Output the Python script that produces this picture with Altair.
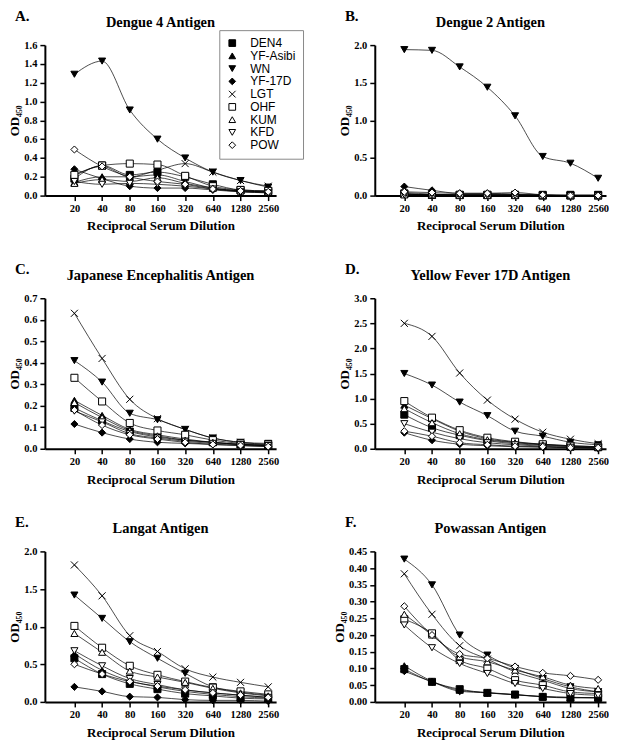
import altair as alt
import pandas as pd

DILUTIONS = [20, 40, 80, 160, 320, 640, 1280, 2560]
SERIES = ["DEN4", "YF-Asibi", "WN", "YF-17D", "LGT", "OHF", "KUM", "KFD", "POW"]

# Panel A: Dengue 4 Antigen
DENGUE4 = {
    "DEN4":     [0.18, 0.32, 0.22, 0.25, 0.20, 0.12, 0.06, 0.05],
    "YF-Asibi": [0.14, 0.20, 0.20, 0.22, 0.15, 0.08, 0.05, 0.04],
    "WN":       [1.29, 1.43, 0.91, 0.60, 0.40, 0.25, 0.16, 0.09],
    "YF-17D":   [0.28, 0.18, 0.10, 0.08, 0.08, 0.06, 0.04, 0.03],
    "LGT":      [0.21, 0.31, 0.20, 0.27, 0.34, 0.25, 0.16, 0.10],
    "OHF":      [0.22, 0.32, 0.34, 0.33, 0.21, 0.10, 0.06, 0.05],
    "KUM":      [0.13, 0.17, 0.15, 0.19, 0.13, 0.08, 0.05, 0.04],
    "KFD":      [0.15, 0.12, 0.13, 0.12, 0.10, 0.07, 0.04, 0.03],
    "POW":      [0.49, 0.31, 0.20, 0.15, 0.12, 0.07, 0.05, 0.04],
}
# Panel B: Dengue 2 Antigen
DENGUE2 = {
    "DEN4":     [0.03, 0.01, 0.01, 0.01, 0.01, 0.01, 0.01, 0.01],
    "YF-Asibi": [0.04, 0.02, 0.01, 0.01, 0.01, 0.00, 0.00, 0.00],
    "WN":       [1.94, 1.93, 1.71, 1.44, 1.06, 0.52, 0.43, 0.23],
    "YF-17D":   [0.12, 0.07, 0.03, 0.03, 0.02, 0.01, 0.00, 0.00],
    "LGT":      [0.02, 0.01, 0.01, 0.01, 0.01, 0.00, 0.00, 0.00],
    "OHF":      [0.02, 0.01, 0.01, 0.01, 0.01, 0.00, 0.00, 0.00],
    "KUM":      [0.01, 0.01, 0.00, 0.00, 0.00, 0.00, 0.00, 0.00],
    "KFD":      [0.01, 0.01, 0.00, 0.00, 0.00, 0.00, 0.00, 0.00],
    "POW":      [0.05, 0.04, 0.03, 0.03, 0.04, 0.01, 0.00, 0.00],
}
# Panel C: Japanese Encephalitis Antigen
JAPENC = {
    "DEN4":     [0.190, 0.130, 0.080, 0.055, 0.040, 0.030, 0.020, 0.015],
    "YF-Asibi": [0.225, 0.155, 0.090, 0.065, 0.045, 0.030, 0.020, 0.015],
    "WN":       [0.410, 0.310, 0.165, 0.135, 0.090, 0.050, 0.030, 0.025],
    "YF-17D":   [0.115, 0.075, 0.045, 0.030, 0.025, 0.020, 0.015, 0.010],
    "LGT":      [0.630, 0.420, 0.230, 0.140, 0.090, 0.050, 0.030, 0.020],
    "OHF":      [0.330, 0.220, 0.120, 0.085, 0.065, 0.040, 0.025, 0.020],
    "KUM":      [0.215, 0.145, 0.085, 0.060, 0.040, 0.030, 0.020, 0.015],
    "KFD":      [0.175, 0.125, 0.070, 0.050, 0.035, 0.025, 0.020, 0.015],
    "POW":      [0.180, 0.110, 0.065, 0.045, 0.030, 0.020, 0.015, 0.010],
}
# Panel D: Yellow Fever 17D Antigen
YF17D = {
    "DEN4":     [0.68, 0.42, 0.27, 0.16, 0.10, 0.07, 0.04, 0.03],
    "YF-Asibi": [0.87, 0.60, 0.35, 0.20, 0.13, 0.09, 0.06, 0.04],
    "WN":       [1.50, 1.27, 0.93, 0.66, 0.35, 0.25, 0.13, 0.08],
    "YF-17D":   [0.32, 0.17, 0.09, 0.06, 0.04, 0.03, 0.02, 0.01],
    "LGT":      [2.50, 2.24, 1.51, 0.97, 0.59, 0.33, 0.19, 0.10],
    "OHF":      [0.95, 0.62, 0.37, 0.22, 0.14, 0.09, 0.06, 0.04],
    "KUM":      [0.80, 0.52, 0.30, 0.18, 0.12, 0.08, 0.05, 0.03],
    "KFD":      [0.50, 0.33, 0.20, 0.12, 0.08, 0.05, 0.03, 0.02],
    "POW":      [0.35, 0.25, 0.12, 0.08, 0.05, 0.04, 0.02, 0.02],
}
# Panel E: Langat Antigen
LANGAT = {
    "DEN4":     [0.58, 0.37, 0.24, 0.17, 0.11, 0.08, 0.05, 0.04],
    "YF-Asibi": [0.64, 0.42, 0.28, 0.20, 0.14, 0.10, 0.07, 0.05],
    "WN":       [1.42, 1.11, 0.80, 0.58, 0.38, 0.20, 0.13, 0.09],
    "YF-17D":   [0.20, 0.14, 0.07, 0.06, 0.03, 0.02, 0.02, 0.01],
    "LGT":      [1.82, 1.41, 0.88, 0.67, 0.44, 0.33, 0.26, 0.20],
    "OHF":      [1.01, 0.72, 0.48, 0.36, 0.27, 0.19, 0.14, 0.10],
    "KUM":      [0.91, 0.66, 0.41, 0.33, 0.26, 0.18, 0.12, 0.08],
    "KFD":      [0.68, 0.48, 0.31, 0.23, 0.16, 0.12, 0.09, 0.06],
    "POW":      [0.50, 0.37, 0.27, 0.21, 0.16, 0.12, 0.09, 0.06],
}
# Panel F: Powassan Antigen
POWASSAN = {
    "DEN4":     [0.098, 0.060, 0.038, 0.027, 0.022, 0.015, 0.012, 0.012],
    "YF-Asibi": [0.108, 0.062, 0.035, 0.028, 0.022, 0.016, 0.013, 0.013],
    "WN":       [0.427, 0.350, 0.200, 0.140, 0.100, 0.070, 0.045, 0.030],
    "YF-17D":   [0.092, 0.060, 0.032, 0.027, 0.021, 0.016, 0.014, 0.012],
    "LGT":      [0.383, 0.262, 0.168, 0.128, 0.090, 0.065, 0.040, 0.030],
    "OHF":      [0.247, 0.205, 0.125, 0.100, 0.065, 0.050, 0.030, 0.025],
    "KUM":      [0.262, 0.200, 0.135, 0.120, 0.095, 0.075, 0.050, 0.040],
    "KFD":      [0.230, 0.162, 0.115, 0.085, 0.055, 0.040, 0.025, 0.020],
    "POW":      [0.286, 0.200, 0.143, 0.130, 0.106, 0.087, 0.078, 0.066],
}

PANEL_DATA = [DENGUE4, DENGUE2, JAPENC, YF17D, LANGAT, POWASSAN]
PANEL_LETTERS = ["A.", "B.", "C.", "D.", "E.", "F."]
PANEL_TITLES = ["Dengue 4 Antigen", "Dengue 2 Antigen", "Japanese Encephalitis Antigen",
                "Yellow Fever 17D Antigen", "Langat Antigen", "Powassan Antigen"]
Y_MAX = [1.6, 2.0, 0.7, 3.0, 2.0, 0.45]
Y_STEP = [0.2, 0.5, 0.1, 0.5, 0.5, 0.05]
Y_FORMAT = [".1f", ".1f", ".1f", ".1f", ".1f", ".2f"]

SHAPES = ["square", "triangle-up", "triangle-down", "diamond",
          "M-1,-1L1,1M-1,1L1,-1", "square", "triangle-up", "triangle-down", "diamond"]
FILLS = ["black", "black", "black", "black", "white", "white", "white", "white", "white"]
STROKES = ["black"] * 9

SERIF = "Liberation Serif"
SANS = "Liberation Sans"
PW, PH = 232, 151


def panel(i):
    data = PANEL_DATA[i]
    rows = [{"dil": d, "series": s, "od": v}
            for s in SERIES for d, v in zip(DILUTIONS, data[s])]
    df = pd.DataFrame(rows)
    n = int(round(Y_MAX[i] / Y_STEP[i]))
    ticks = [round(k * Y_STEP[i], 3) for k in range(n + 1)]

    x = alt.X("dil:Q",
              scale=alt.Scale(type="log", base=2, domain=[9.55, 3118], nice=False),
              axis=alt.Axis(values=DILUTIONS, format="d", title="Reciprocal Serum Dilution",
                            labelOverlap=False, labelFlush=False))
    y = alt.Y("od:Q",
              scale=alt.Scale(domain=[0, Y_MAX[i]], nice=False, zero=True),
              axis=alt.Axis(values=ticks, format=Y_FORMAT[i], title="OD₄₅₀"))

    if i == 0:
        leg = alt.Legend(orient="none", legendX=175, legendY=-15, title=None,
                         strokeColor="#8a8a8a", fillColor="white", padding=7,
                         labelFont=SANS, labelFontSize=12, labelColor="black",
                         symbolSize=45, symbolStrokeColor="black", symbolStrokeWidth=1,
                         rowPadding=0.8, labelOffset=12)
    else:
        leg = None

    line = alt.Chart(df).mark_line(interpolate="monotone", color="black", strokeWidth=0.7).encode(
        x=x, y=y, detail="series:N")
    pts = alt.Chart(df).mark_point(size=50, strokeWidth=1, opacity=1, fillOpacity=1).encode(
        x=x, y=y,
        shape=alt.Shape("series:N", scale=alt.Scale(domain=SERIES, range=SHAPES), legend=leg),
        fill=alt.Fill("series:N", scale=alt.Scale(domain=SERIES, range=FILLS), legend=leg),
        stroke=alt.Stroke("series:N", scale=alt.Scale(domain=SERIES, range=STROKES), legend=leg),
    )
    labels = pd.DataFrame({"letter": [PANEL_LETTERS[i]], "title": [PANEL_TITLES[i]]})
    letter = alt.Chart(labels).mark_text(
        font=SERIF, fontSize=15, fontWeight="bold", align="left", baseline="top", color="black"
    ).encode(x=alt.value(-30), y=alt.value(-36), text="letter:N")
    title = alt.Chart(labels).mark_text(
        font=SERIF, fontSize=14.5, fontWeight="bold", align="center", baseline="top", color="black"
    ).encode(x=alt.value(PW / 2), y=alt.value(-29), text="title:N")

    return alt.layer(line, pts, letter, title).properties(width=PW, height=PH)


chart = alt.concat(*[panel(i) for i in range(6)], columns=2,
                   spacing={"row": 103, "column": 99}, bounds="flush").resolve_legend(
    shape="independent", fill="independent", stroke="independent"
).properties(padding=0).configure_view(stroke=None).configure_axis(
    grid=False, domainColor="black", domainWidth=2, tickColor="black", tickWidth=1.5,
    tickSize=5, labelPadding=3, labelFont=SERIF, labelFontWeight="bold", labelFontSize=10.5,
    labelColor="black", titleFont=SERIF, titleFontWeight="bold", titleFontSize=13,
    titleColor="black"
).configure_axisY(titlePadding=2).configure_axisX(titlePadding=6)

chart.save("out.html", embed_options={"renderer": "svg", "actions": False})
